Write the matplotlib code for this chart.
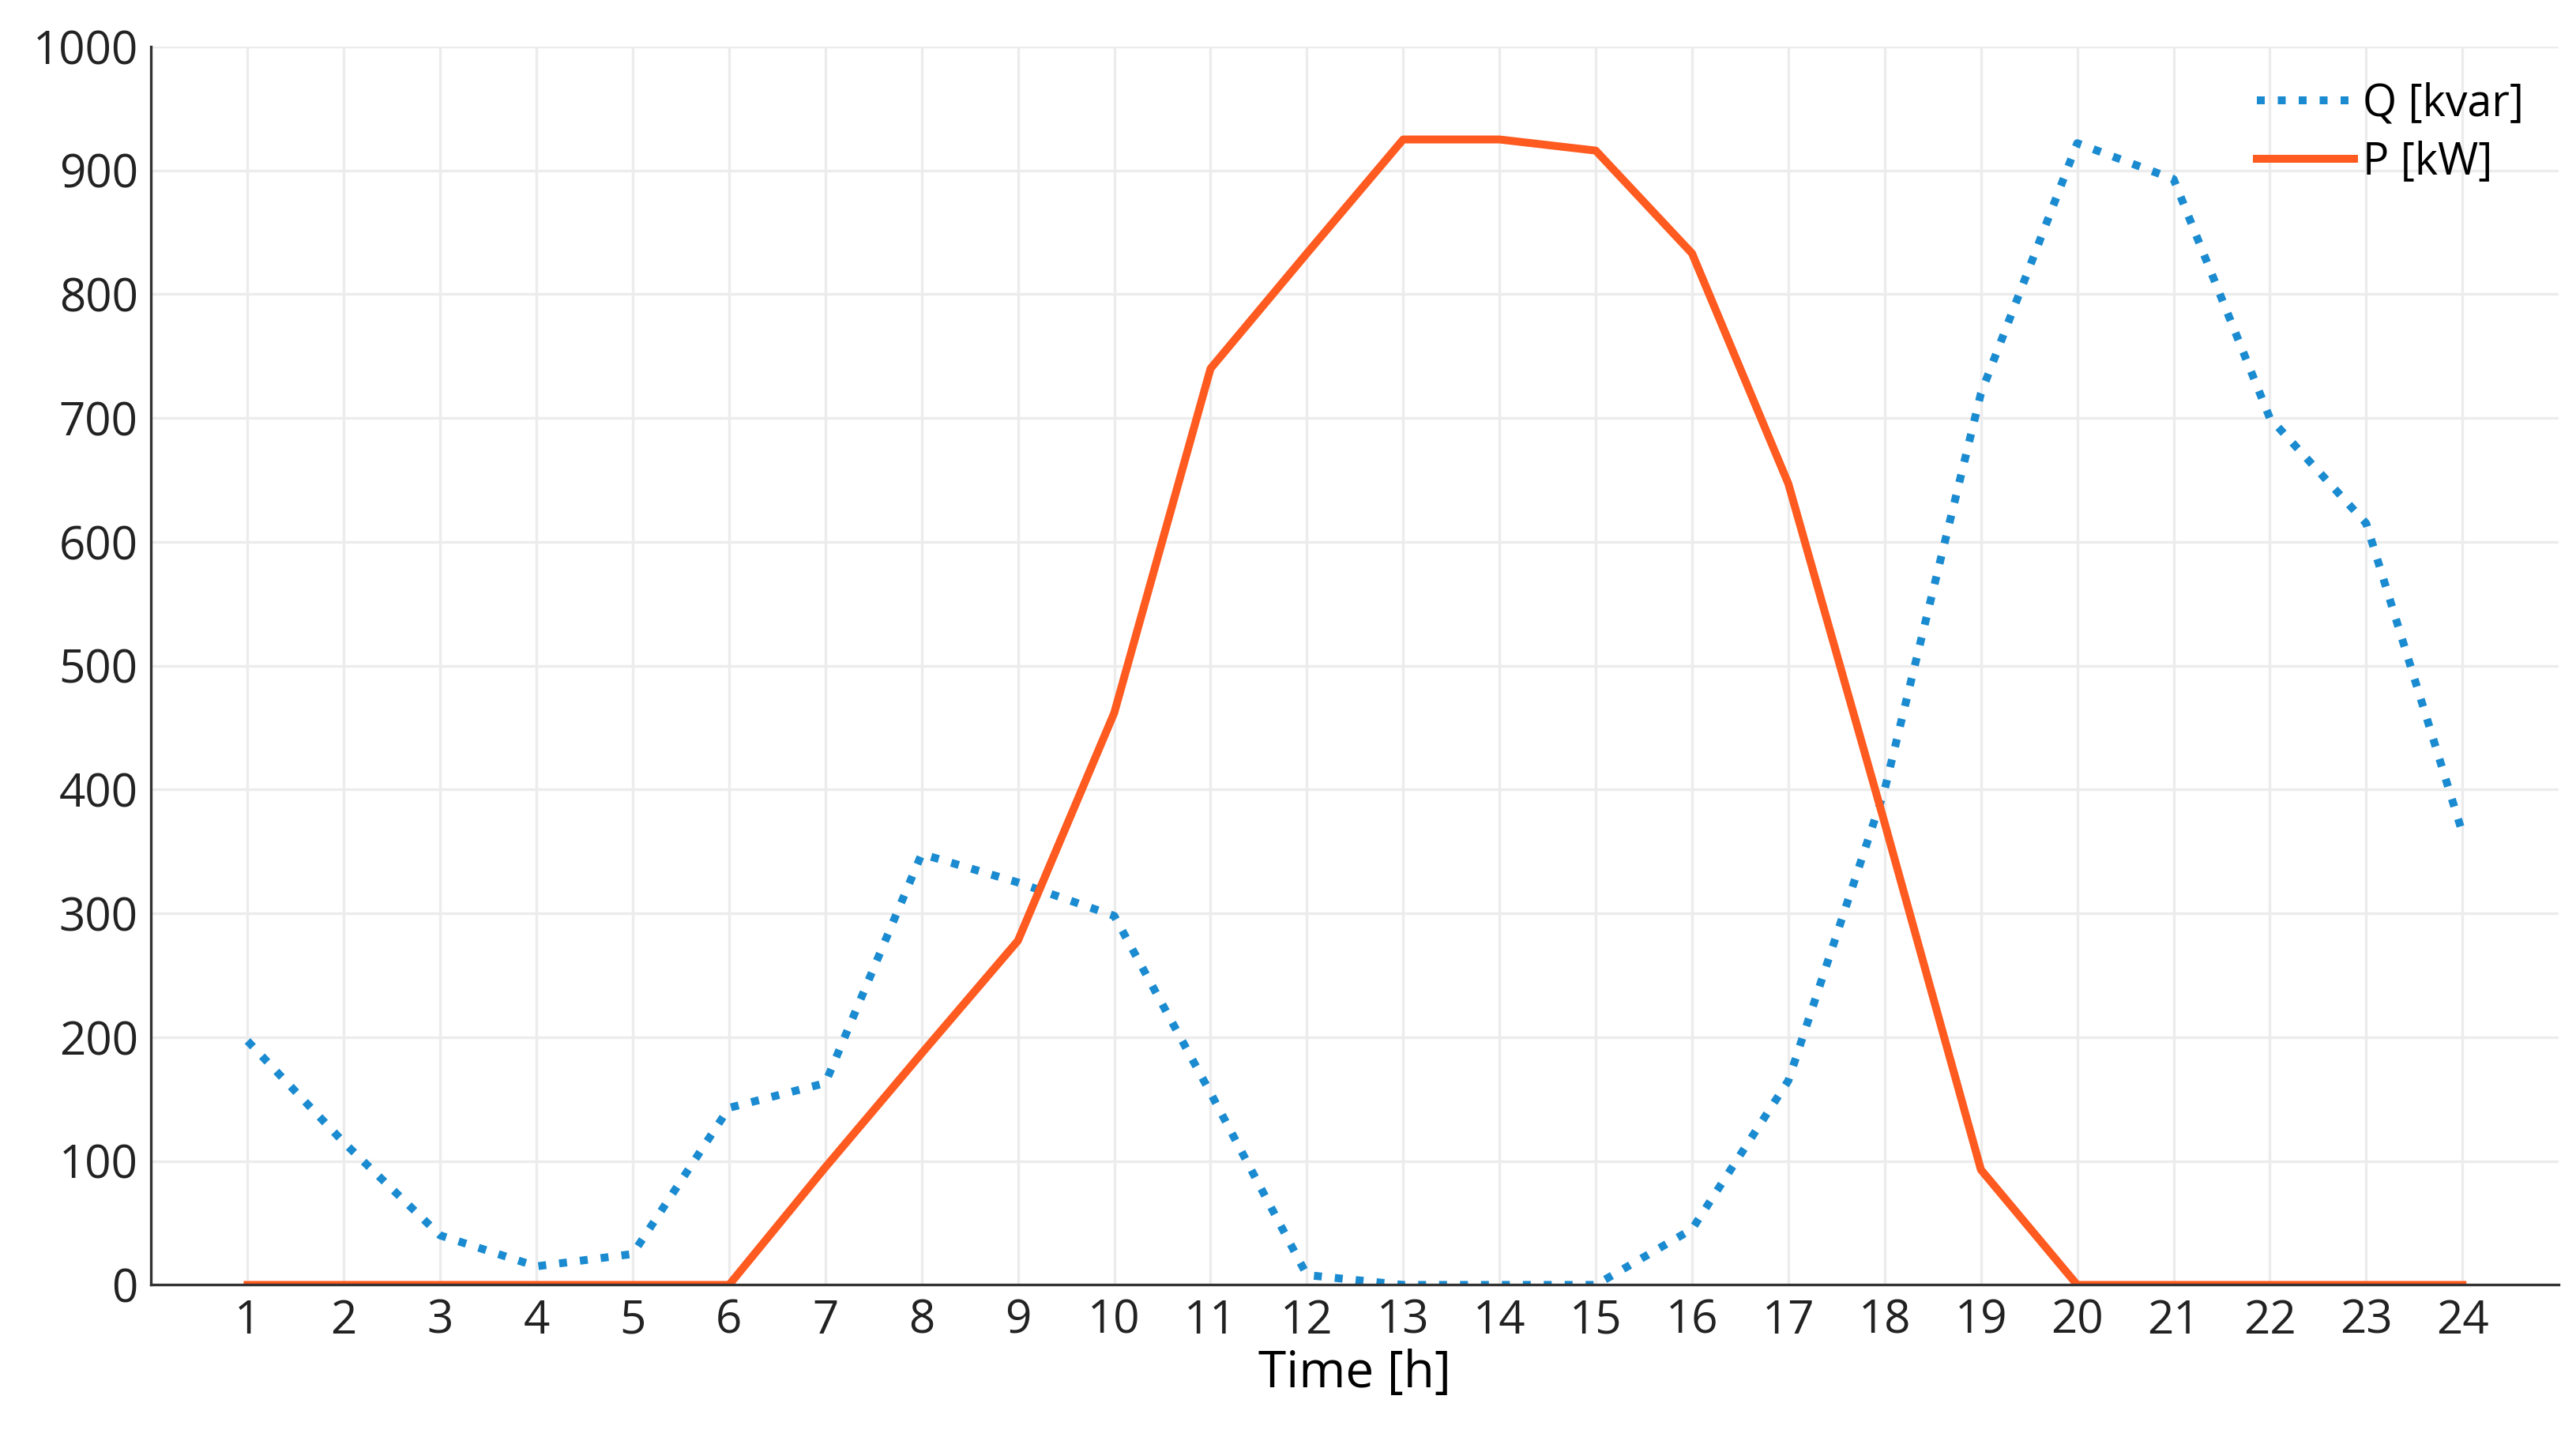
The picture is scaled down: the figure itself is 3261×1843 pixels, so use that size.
import matplotlib.pyplot as plt

plt.rcParams['font.family'] = ['Open Sans', 'DejaVu Sans']

hours = list(range(1, 25))
q_kvar = [197, 115, 40, 15, 25, 143, 163, 348, 325, 298, 155, 8,
          0, 0, 0, 45, 165, 400, 720, 922, 893, 700, 615, 365]
p_kw = [0, 0, 0, 0, 0, 0, 95, 187, 278, 462, 740, 833,
        925, 925, 916, 833, 647, 373, 93, 0, 0, 0, 0, 0]

fig = plt.figure(figsize=(16.31, 9.215), dpi=200)
ax = fig.add_axes([0.0587, 0.1175, 0.9343, 0.8505])

ax.plot(hours, q_kvar, linestyle=':', color='#1a8bd0', linewidth=3.6, label='Q [kvar]')
ax.plot(hours, p_kw, linestyle='-', color='#ff5a1f', linewidth=3.6, label='P [kW]')

ax.set_xlim(0, 25)
ax.set_ylim(0, 1000)
ax.set_xticks(hours)
ax.set_yticks(range(0, 1001, 100))
ax.grid(True, color='#ececec', linewidth=1.2)
ax.set_axisbelow(True)
for s in ['top', 'right']:
    ax.spines[s].set_visible(False)
for s in ['left', 'bottom']:
    ax.spines[s].set_color('#333333')
    ax.spines[s].set_linewidth(1.2)
ax.tick_params(labelsize=21, length=0, pad=6, colors='#222222')
ax.set_xlabel('Time [h]', fontsize=23, labelpad=2)
ax.legend(loc='upper right', fontsize=20, frameon=False, handlelength=2.2,
          handletextpad=0.2, borderaxespad=0.4, labelspacing=0.3)

fig.savefig('out.png', dpi=200)
